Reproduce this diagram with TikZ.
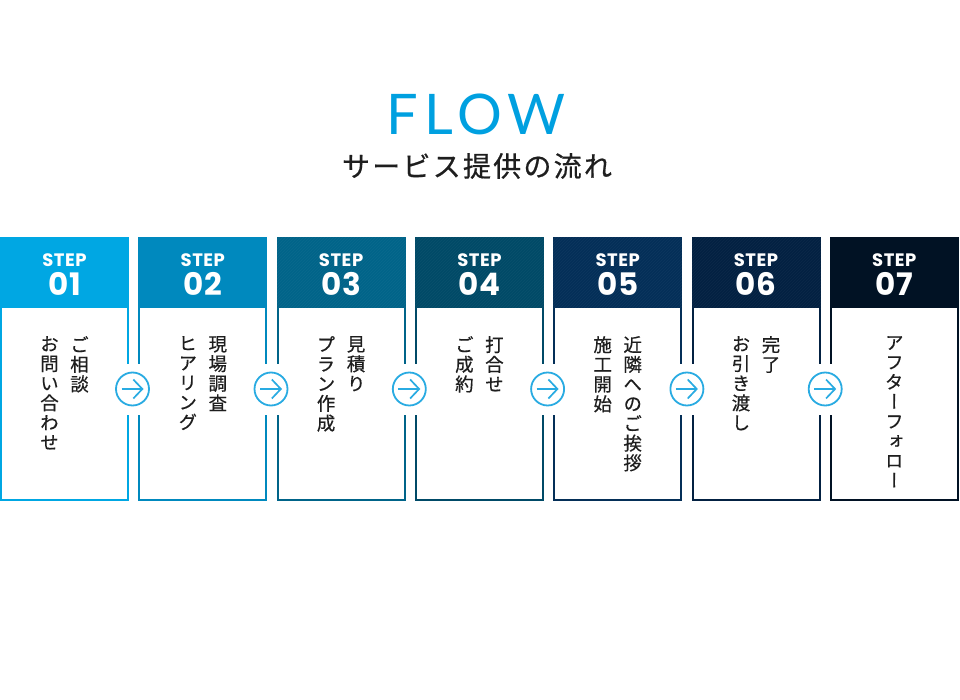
\documentclass[tikz,border=0pt]{standalone}
\usepackage{fontspec}
\usepackage{xcolor}
\usepackage{tikz}
\usetikzlibrary{arrows.meta, patterns}
\newfontfamily\flowfont[LetterSpace=11]{Lato}
\newfontfamily\jpfont[LetterSpace=8, FakeBold=0.6]{Noto Sans CJK JP}
\newfontfamily\tatefont[RawFeature={+vert}, FakeBold=0.5]{Noto Sans CJK JP}
\newfontfamily\stepfont[LetterSpace=3]{Poppins}
\definecolor{FlowCyan}{RGB}{0,160,224}
\definecolor{ArrowCyan}{RGB}{41,171,226}
\definecolor{TextDark}{RGB}{30,30,30}
\definecolor{StepA}{RGB}{0,167,227}
\definecolor{StepB}{RGB}{0,137,190}
\definecolor{StepC}{RGB}{0,100,137}
\definecolor{StepD}{RGB}{0,74,103}
\definecolor{StepE}{RGB}{4,47,88}
\definecolor{StepF}{RGB}{3,33,66}
\definecolor{StepG}{RGB}{1,18,36}
\makeatletter
\newcommand\tatecol[1]{\vbox{\@tfor\tc:=#1\do{\hbox to 19pt{\hss\tc\hss}}}}
\makeatother

\begin{document}
\begin{tikzpicture}[x=1pt, y=-1pt,
      stepframe/.style={rectangle, draw, line width=2pt, fill=white,
                        minimum width=127pt, minimum height=262pt, inner sep=0pt},
      stephead/.style={rectangle, minimum width=129pt, minimum height=71pt,
                       inner sep=0pt, text=white, align=center,
                       font=\stepfont\bfseries\fontsize{18}{29}\selectfont},
      hatched/.style={postaction={pattern=north east lines, pattern color=white, opacity=0.04}},
      tate/.style={anchor=north, inner sep=0pt, text=TextDark,
                   font=\tatefont\fontsize{18.5}{19.7}\selectfont},
      arrgap/.style={rectangle, fill=white, minimum width=40pt,
                     minimum height=51pt, inner sep=0pt},
      nxt/.style={circle, draw=ArrowCyan, line width=1.8pt, fill=white,
                  minimum size=33pt, inner sep=0pt},
      arr/.style={-{Straight Barb[length=9pt, width=19pt]}, ArrowCyan, line width=1.7pt}
    ]
    \useasboundingbox (0,0) rectangle (960,700);

    % Title
    \node[font=\flowfont\fontsize{56}{56}\selectfont, text=FlowCyan, anchor=base]
          (flow) at (476,135) {FLOW};
    \node[font=\jpfont\fontsize{28}{28}\selectfont, text=TextDark]
          (sub) at (477,166) {サービス提供の流れ};

    % Step boxes
    \node[stepframe, draw=StepA] (b1) at (64.5,369)  {};
    \node[stepframe, draw=StepB] (b2) at (202.8,369) {};
    \node[stepframe, draw=StepC] (b3) at (341.1,369) {};
    \node[stepframe, draw=StepD] (b4) at (479.4,369) {};
    \node[stepframe, draw=StepE] (b5) at (617.7,369) {};
    \node[stepframe, draw=StepF] (b6) at (756.0,369) {};
    \node[stepframe, draw=StepG] (b7) at (894.3,369) {};
    \node[stephead, fill=StepA] (h1) at (64.5,272.5)  {\rule{0pt}{16.5pt}STEP\\{\fontsize{31}{29}\selectfont 01}};
    \node[stephead, fill=StepB] (h2) at (202.8,272.5) {\rule{0pt}{16.5pt}STEP\\{\fontsize{31}{29}\selectfont 02}};
    \node[stephead, fill=StepC, hatched] (h3) at (341.1,272.5) {\rule{0pt}{16.5pt}STEP\\{\fontsize{31}{29}\selectfont 03}};
    \node[stephead, fill=StepD, hatched] (h4) at (479.4,272.5) {\rule{0pt}{16.5pt}STEP\\{\fontsize{31}{29}\selectfont 04}};
    \node[stephead, fill=StepE, hatched] (h5) at (617.7,272.5) {\rule{0pt}{16.5pt}STEP\\{\fontsize{31}{29}\selectfont 05}};
    \node[stephead, fill=StepF, hatched] (h6) at (756.0,272.5) {\rule{0pt}{16.5pt}STEP\\{\fontsize{31}{29}\selectfont 06}};
    \node[stephead, fill=StepG] (h7) at (894.3,272.5) {\rule{0pt}{16.5pt}STEP\\{\fontsize{31}{29}\selectfont 07}};

    % Step texts (vertical, right column first)
    \node[tate] (t1a) at (79.5,336)  {\tatecol{ご相談}};
    \node[tate] (t1b) at (49.5,336)  {\tatecol{お問い合わせ}};
    \node[tate] (t2a) at (217.8,336) {\tatecol{現場調査}};
    \node[tate] (t2b) at (187.8,336) {\tatecol{ヒアリング}};
    \node[tate] (t3a) at (356.1,336) {\tatecol{見積り}};
    \node[tate] (t3b) at (326.1,336) {\tatecol{プラン作成}};
    \node[tate] (t4a) at (494.4,336) {\tatecol{打合せ}};
    \node[tate] (t4b) at (464.4,336) {\tatecol{ご成約}};
    \node[tate] (t5a) at (632.7,336) {\tatecol{近隣へのご挨拶}};
    \node[tate] (t5b) at (602.7,336) {\tatecol{施工開始}};
    \node[tate] (t6a) at (771.0,336) {\tatecol{完了}};
    \node[tate] (t6b) at (741.0,336) {\tatecol{お引き渡し}};
    \node[tate] (t7a) at (894.3,336) {\tatecol{アフターフォロー}};

    % Next-step markers
    \node[arrgap] (g1) at (132.5,389) {};
    \node[arrgap] (g2) at (271.0,389) {};
    \node[arrgap] (g3) at (409.3,389) {};
    \node[arrgap] (g4) at (547.6,389) {};
    \node[arrgap] (g5) at (686.9,389) {};
    \node[arrgap] (g6) at (825.2,389) {};
    \node[nxt] (c1) at (g1) {};
    \node[nxt] (c2) at (g2) {};
    \node[nxt] (c3) at (g3) {};
    \node[nxt] (c4) at (g4) {};
    \node[nxt] (c5) at (g5) {};
    \node[nxt] (c6) at (g6) {};
    \draw[arr] ([xshift=-11pt]c1.center) -- ([xshift=11pt]c1.center);
    \draw[arr] ([xshift=-11pt]c2.center) -- ([xshift=11pt]c2.center);
    \draw[arr] ([xshift=-11pt]c3.center) -- ([xshift=11pt]c3.center);
    \draw[arr] ([xshift=-11pt]c4.center) -- ([xshift=11pt]c4.center);
    \draw[arr] ([xshift=-11pt]c5.center) -- ([xshift=11pt]c5.center);
    \draw[arr] ([xshift=-11pt]c6.center) -- ([xshift=11pt]c6.center);
  \end{tikzpicture}
\end{document}
